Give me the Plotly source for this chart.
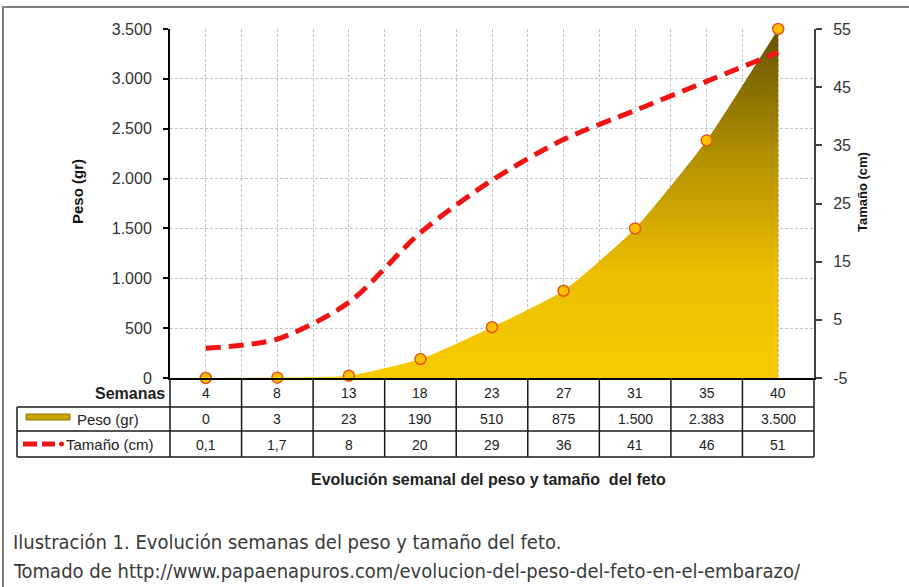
import plotly.graph_objects as go

# ---- data ----
semanas = [4, 8, 13, 18, 23, 27, 31, 35, 40]
peso_gr = [0, 3, 23, 190, 510, 875, 1500, 2383, 3500]
tamano_cm = [0.1, 1.7, 8, 20, 29, 36, 41, 46, 51]
peso_ticks = [0, 500, 1000, 1500, 2000, 2500, 3000, 3500]
tamano_ticks = [-5, 5, 15, 25, 35, 45, 55]
row_labels = ["Semanas", "Peso (gr)", "Tamaño (cm)"]
titulo = "Evolución semanal del peso y tamaño  del feto"
caption_1 = "Ilustración 1. Evolución semanas del peso y tamaño del feto."
caption_2 = "Tomado de http://www.papaenapuros.com/evolucion-del-peso-del-feto-en-el-embarazo/"

# ---- geometry ----
W, H = 909, 587
ML, MR, MT, MB = 170, 95, 29, 209
PW = W - ML - MR
PH = H - MT - MB


def px(x):
    return (x - ML) / PW


def py(y):
    return (H - MB - y) / PH


def fmt(v):
    if float(v).is_integer():
        return f"{int(v):,}".replace(",", ".")
    return f"{v}".replace(".", ",")


n = len(semanas)
idx = list(range(n))
FONT = "Liberation Sans, Arial, sans-serif"

fig = go.Figure()

# area (peso)
fig.add_trace(go.Scatter(
    x=idx, y=peso_gr, mode="lines",
    line=dict(width=0, shape="spline", smoothing=0.5),
    fill="tozeroy",
    fillgradient=dict(type="vertical",
                      colorscale=[[0, "#F7CB00"], [0.3, "#EDBE00"],
                                  [0.65, "#B08E00"], [1, "#625200"]]),
    hoverinfo="skip", showlegend=False,
))
# line (tamaño)
fig.add_trace(go.Scatter(
    x=idx, y=tamano_cm, yaxis="y2", mode="lines",
    line=dict(color="#F01414", width=5, dash="15px,8px", shape="spline", smoothing=0.8),
    showlegend=False, hoverinfo="skip",
))
# markers (peso)
fig.add_trace(go.Scatter(
    x=idx, y=peso_gr, mode="markers",
    marker=dict(size=11, color="#FFC000", line=dict(color="#E0561A", width=1.5)),
    cliponaxis=False, showlegend=False, hoverinfo="skip",
))

shapes = []
# outer frame
shapes.append(dict(type="rect", xref="paper", yref="paper",
                   x0=px(3), x1=px(W + 20), y0=py(7), y1=py(H + 20),
                   line=dict(color="#808080", width=2), fillcolor="rgba(0,0,0,0)", layer="below"))

TL = "#1a1a1a"
# table horizontal lines
for yy in [407, 431, 457]:
    shapes.append(dict(type="line", xref="paper", yref="paper",
                       x0=px(17), x1=1, y0=py(yy), y1=py(yy),
                       line=dict(color=TL, width=1.5)))
# left box vertical
shapes.append(dict(type="line", xref="paper", yref="paper",
                   x0=px(17), x1=px(17), y0=py(407), y1=py(457),
                   line=dict(color=TL, width=1.5)))
# column boundaries
for k in range(n + 1):
    shapes.append(dict(type="line", xref="paper", yref="paper",
                       x0=k / n, x1=k / n, y0=0, y1=py(457),
                       line=dict(color=TL, width=1.5)))
# legend swatch peso
shapes.append(dict(type="rect", xref="paper", yref="paper",
                   x0=px(26), x1=px(70), y0=py(414), y1=py(420),
                   fillcolor="#C9A300", line=dict(color="#8A7300", width=1)))
# legend swatch tamaño
for a, b in [(23, 37), (42, 55)]:
    shapes.append(dict(type="line", xref="paper", yref="paper",
                       x0=px(a), x1=px(b), y0=py(444), y1=py(444),
                       line=dict(color="#F01414", width=5)))
shapes.append(dict(type="circle", xref="paper", yref="paper",
                   x0=px(59), x1=px(64), y0=py(441.5), y1=py(446.5),
                   fillcolor="#F01414", line=dict(width=0)))


def note(x, y, text, size, xref="paper", xanchor="center", color="#222", family=FONT, angle=0):
    return dict(x=x, xref=xref, y=y, yref="paper", text=text, showarrow=False,
                xanchor=xanchor, yanchor="middle", textangle=angle,
                font=dict(family=family, size=size, color=color))


ann = []
row_y = [393, 419, 444.5]
for i in idx:
    ann.append(note(i, py(row_y[0]), str(semanas[i]), 14, xref="x"))
    ann.append(note(i, py(row_y[1]), fmt(peso_gr[i]), 14, xref="x"))
    ann.append(note(i, py(row_y[2]), fmt(tamano_cm[i]), 14, xref="x"))

ann.append(note(px(167), py(394), "<b>" + row_labels[0] + "</b>", 16, xanchor="right"))
ann.append(note(px(75), py(419), row_labels[1], 15, xanchor="left"))
ann.append(note(px(64), py(444.5), row_labels[2], 15, xanchor="left"))

# axis titles
ann.append(note(px(78), py(192), "<b>Peso (gr)</b>", 15, color="#111", angle=-90))
ann.append(note(px(863), py(192), "<b>Tamaño (cm)</b>", 13, color="#111", angle=-90))
# chart title
ann.append(note(px(488), py(479), "<b>" + titulo + "</b>", 16))
# caption
CAP = "DejaVu Sans Condensed, sans-serif"
ann.append(note(px(11), py(542), caption_1, 20, xanchor="left", color="#3a3a3a", family=CAP))
ann.append(note(px(11), py(571), caption_2, 20, xanchor="left", color="#3a3a3a", family=CAP))

GRID = "#c4c4c4"
fig.update_layout(
    width=W, height=H, autosize=False,
    margin=dict(l=ML, r=MR, t=MT, b=MB, pad=0),
    paper_bgcolor="white", plot_bgcolor="white",
    separators=",.",
    showlegend=False,
    font=dict(family=FONT, color="#333"),
    xaxis=dict(range=[-0.5, n - 0.5], tick0=0, dtick=0.5, showgrid=True,
               gridcolor=GRID, griddash="3px,2px", gridwidth=1,
               showticklabels=False, ticks="", zeroline=False,
               showline=True, linecolor="#000", linewidth=1.5, fixedrange=True),
    yaxis=dict(range=[0, 3500], tickvals=peso_ticks, tickformat=",d",
               showgrid=True, gridcolor=GRID, griddash="3px,2px", gridwidth=1,
               zeroline=False, showline=True, linecolor="#000", linewidth=2,
               ticks="outside", ticklen=5, tickcolor="#000", tickwidth=1.5,
               ticklabelstandoff=8,
               tickfont=dict(family=FONT, size=16, color="#333"), fixedrange=True),
    yaxis2=dict(range=[-5, 55], tickvals=tamano_ticks,
                ticktext=[str(v) for v in tamano_ticks],
                overlaying="y", side="right",
                anchor="x", showgrid=False, zeroline=False, showline=True,
                linecolor="#404040", linewidth=2, ticks="outside", ticklen=6,
                tickcolor="#404040", tickwidth=1.5, ticklabelstandoff=8,
                tickfont=dict(family=FONT, size=16, color="#333"), fixedrange=True),
    yaxis3=dict(range=[-5, 55], tickvals=tamano_ticks, overlaying="y", side="right",
                anchor="x", showgrid=False, zeroline=False, showline=False,
                ticks="inside", ticklen=6, tickcolor="#404040", tickwidth=1.5,
                showticklabels=False, fixedrange=True),
    shapes=shapes,
    annotations=ann,
)

fig.write_html("out.html", config={"displayModeBar": False},
               post_script="document.body.style.margin='0';")
